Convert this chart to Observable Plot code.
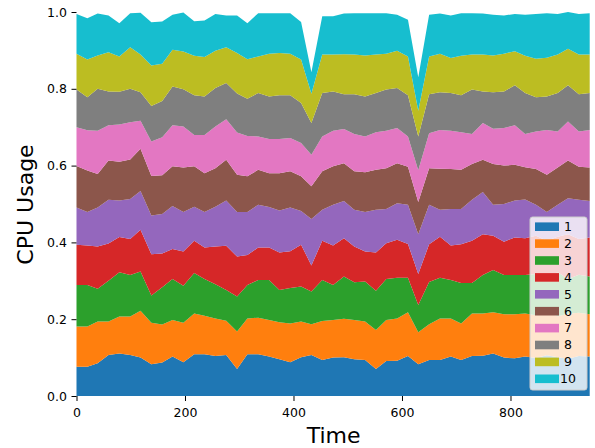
<!DOCTYPE html>
<html>
<head>
<meta charset="utf-8">
<script src="https://cdn.jsdelivr.net/npm/d3@7"></script>
<script src="https://cdn.jsdelivr.net/npm/@observablehq/plot@0.6"></script>
<style>
  html, body { margin: 0; padding: 0; background: #fff; }
  #chart { width: 595px; height: 448px; }
  svg { font-family: "DejaVu Sans", sans-serif; }
</style>
</head>
<body>
<div id="chart"></div>
<script>
// Time stamps (x)
const times = [0,20,39,59,79,99,118,138,158,177,197,217,236,256,276,296,315,335,355,374,394,414,433,453,473,493,512,532,552,571,591,611,630,650,670,690,709,729,749,768,788,808,827,847,867,887,906,926,946];

// Series names (legend labels)
const seriesNames = ["1","2","3","4","5","6","7","8","9","10"];

// Per-series CPU usage values (fractions)
const s1 = [0.076,0.076,0.085,0.107,0.111,0.107,0.100,0.083,0.087,0.103,0.088,0.109,0.109,0.104,0.107,0.070,0.109,0.109,0.103,0.096,0.088,0.101,0.107,0.094,0.100,0.101,0.096,0.094,0.070,0.091,0.092,0.104,0.083,0.094,0.094,0.103,0.094,0.104,0.105,0.111,0.100,0.098,0.103,0.099,0.106,0.101,0.097,0.104,0.103];
const s2 = [0.105,0.105,0.109,0.087,0.096,0.100,0.122,0.108,0.099,0.095,0.103,0.106,0.100,0.098,0.089,0.098,0.093,0.095,0.095,0.096,0.101,0.093,0.080,0.101,0.098,0.100,0.102,0.100,0.102,0.107,0.110,0.114,0.083,0.093,0.108,0.099,0.095,0.111,0.110,0.107,0.113,0.115,0.112,0.111,0.113,0.107,0.117,0.113,0.110];
const s3 = [0.108,0.108,0.085,0.106,0.115,0.108,0.102,0.071,0.097,0.107,0.096,0.105,0.096,0.089,0.080,0.091,0.087,0.098,0.104,0.084,0.092,0.091,0.085,0.107,0.091,0.110,0.098,0.104,0.102,0.107,0.106,0.090,0.071,0.110,0.106,0.100,0.105,0.079,0.100,0.110,0.102,0.102,0.100,0.108,0.090,0.114,0.091,0.099,0.098];
const s4 = [0.105,0.103,0.110,0.097,0.092,0.094,0.109,0.107,0.088,0.078,0.089,0.084,0.082,0.098,0.115,0.104,0.078,0.085,0.085,0.098,0.096,0.109,0.068,0.102,0.103,0.100,0.093,0.078,0.100,0.093,0.099,0.088,0.081,0.098,0.107,0.090,0.101,0.110,0.106,0.089,0.087,0.098,0.096,0.099,0.095,0.093,0.116,0.093,0.102];
const s5 = [0.097,0.087,0.102,0.114,0.095,0.104,0.101,0.101,0.103,0.112,0.103,0.089,0.092,0.104,0.118,0.116,0.112,0.111,0.105,0.109,0.114,0.088,0.121,0.081,0.106,0.097,0.096,0.103,0.111,0.089,0.095,0.102,0.103,0.103,0.070,0.095,0.092,0.107,0.110,0.081,0.098,0.096,0.101,0.081,0.075,0.083,0.094,0.102,0.095];
const s6 = [0.108,0.108,0.087,0.102,0.101,0.103,0.110,0.103,0.101,0.103,0.116,0.105,0.101,0.100,0.106,0.097,0.093,0.091,0.088,0.097,0.094,0.090,0.085,0.100,0.100,0.098,0.100,0.104,0.104,0.106,0.104,0.099,0.084,0.095,0.107,0.104,0.102,0.093,0.084,0.106,0.100,0.093,0.084,0.093,0.097,0.097,0.098,0.086,0.087];
const s7 = [0.101,0.105,0.113,0.092,0.097,0.097,0.073,0.090,0.099,0.107,0.107,0.082,0.100,0.109,0.106,0.110,0.105,0.087,0.089,0.089,0.087,0.087,0.082,0.091,0.093,0.089,0.097,0.093,0.098,0.098,0.092,0.079,0.083,0.091,0.101,0.100,0.098,0.078,0.096,0.092,0.098,0.103,0.086,0.098,0.117,0.094,0.102,0.092,0.098];
const s8 = [0.098,0.086,0.109,0.088,0.085,0.087,0.074,0.092,0.094,0.101,0.097,0.103,0.100,0.100,0.094,0.102,0.097,0.113,0.111,0.114,0.111,0.104,0.083,0.113,0.102,0.091,0.104,0.104,0.102,0.107,0.104,0.107,0.088,0.102,0.098,0.098,0.096,0.116,0.082,0.095,0.095,0.104,0.107,0.089,0.087,0.100,0.094,0.097,0.096];
const s9 = [0.093,0.098,0.087,0.102,0.092,0.108,0.098,0.106,0.097,0.096,0.098,0.103,0.103,0.097,0.093,0.105,0.103,0.095,0.111,0.110,0.108,0.113,0.076,0.100,0.096,0.104,0.103,0.107,0.100,0.093,0.097,0.101,0.067,0.098,0.100,0.091,0.103,0.091,0.096,0.096,0.098,0.089,0.097,0.100,0.101,0.100,0.095,0.103,0.100];
const s10 = [0.104,0.108,0.109,0.096,0.087,0.089,0.109,0.112,0.110,0.091,0.102,0.090,0.095,0.096,0.083,0.098,0.094,0.113,0.106,0.104,0.106,0.098,0.056,0.100,0.100,0.106,0.108,0.110,0.108,0.106,0.094,0.096,0.087,0.109,0.105,0.111,0.111,0.108,0.107,0.106,0.100,0.097,0.107,0.117,0.116,0.106,0.096,0.106,0.108];

// Axis ticks
const xTicks = [0, 200, 400, 600, 800];
const yTicks = [0, 0.2, 0.4, 0.6, 0.8, 1.0];
const palette = ["#1f77b4","#ff7f0e","#2ca02c","#d62728","#9467bd","#8c564b","#e377c2","#7f7f7f","#bcbd22","#17becf"];

const allSeries = [s1,s2,s3,s4,s5,s6,s7,s8,s9,s10];
const data = [];
allSeries.forEach((vals, k) => {
  vals.forEach((v, i) => data.push({time: times[i], value: v, series: seriesNames[k]}));
});

const W = 595, H = 448;
const chart = Plot.plot({
  width: W,
  height: H,
  marginLeft: 76.5,
  marginRight: 5.3,
  marginTop: 12,
  marginBottom: 52,
  style: {fontFamily: "DejaVu Sans, sans-serif", background: "#fff", color: "#000"},
  x: {domain: [0, 946]},
  y: {domain: [0, 1]},
  color: {domain: seriesNames, range: palette},
  marks: [
    Plot.areaY(data, {x: "time", y: "value", fill: "series", z: "series", curve: "linear"}),
    Plot.axisX({ticks: xTicks, tickSize: 5, tickPadding: 7, fontSize: 12.5, label: null, stroke: "#000"}),
    Plot.axisY({ticks: yTicks, tickSize: 5, tickPadding: 5, fontSize: 12.5, tickFormat: d3.format(".1f"), label: null, stroke: "#000"}),
    Plot.text(["Time"], {frameAnchor: "bottom", dy: 39, fontSize: 22, fill: "#000", textAnchor: "middle", lineAnchor: "middle"}),
    Plot.text(["CPU Usage"], {frameAnchor: "left", dx: -51, rotate: -90, fontSize: 22, fill: "#000", textAnchor: "middle", lineAnchor: "middle"})
  ]
});

// Legend inside the plot (lower right), like matplotlib's
const color = chart.scale("color");
const svg = d3.select(chart);
const lg = svg.append("g").attr("transform", "translate(530,217)");
lg.append("rect")
  .attr("x", 0).attr("y", 0).attr("width", 57).attr("height", 173).attr("rx", 2.5)
  .attr("fill", "#fff").attr("fill-opacity", 0.8)
  .attr("stroke", "#cccccc").attr("stroke-width", 1);
color.domain.forEach((name, k) => {
  const cy = 9.7 + k * 16.9;
  lg.append("rect").attr("x", 5).attr("y", cy - 4.3).attr("width", 24).attr("height", 8.6)
    .attr("fill", color.range[k]);
  lg.append("text").attr("x", 38).attr("y", cy).attr("dy", "0.35em")
    .attr("font-size", 12.5).attr("font-family", "DejaVu Sans, sans-serif").attr("fill", "#000")
    .text(name);
});

document.getElementById("chart").appendChild(chart);
</script>
</body>
</html>
